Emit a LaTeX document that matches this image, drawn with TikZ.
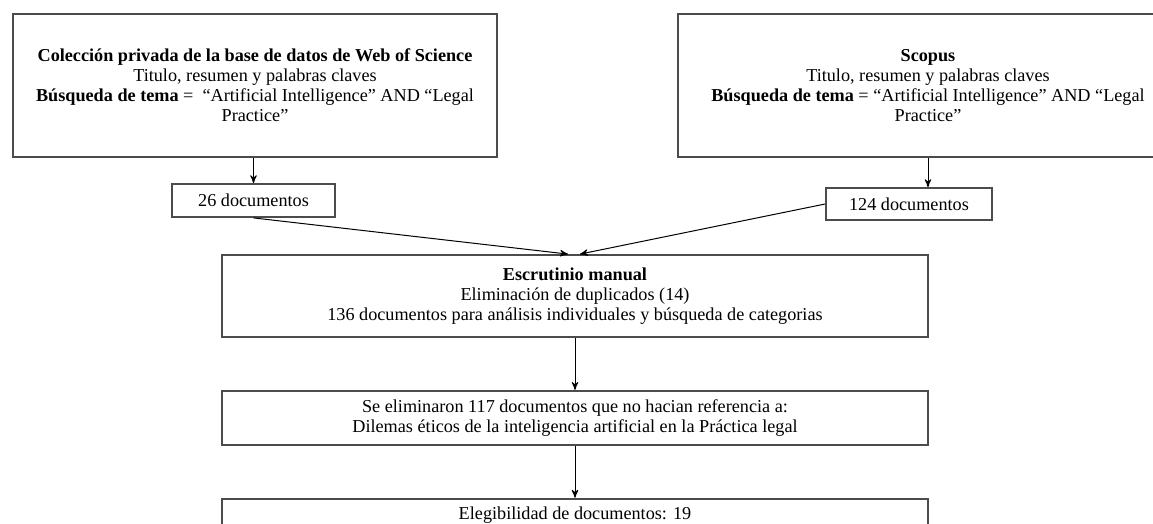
\documentclass[tikz,border=0pt]{standalone}
\usepackage{fontspec}
\setmainfont{Liberation Serif}
\usetikzlibrary{arrows,positioning}

\begin{document}
\begin{tikzpicture}[x=0.5pt, y=-0.5pt, >=stealth', line width=0.5pt]
   \tikzstyle{every node} = [inner sep=0pt, align=center, font=\fontsize{9.1}{10}\selectfont];
   \tikzstyle{box} = [rectangle, draw=black!70, line width=0.9pt];
   \useasboundingbox (0,0) rectangle (1153,524);
   \node[box, minimum width=242pt, minimum height=71.5pt] (wos) at (255,85.5)
      {\textbf{Colección privada de la base de datos de Web of Science}\\
       Titulo, resumen y palabras claves\\
       \textbf{Búsqueda de tema} = ~“Artificial Intelligence” AND “Legal\\
       Practice”};
   \node[box, minimum width=250pt, minimum height=71.5pt] (scopus) at (928,85.5)
      {\textbf{Scopus}\\
       Titulo, resumen y palabras claves\\
       \textbf{Búsqueda de tema} = “Artificial Intelligence” AND “Legal\\
       Practice”};
   \node[box, minimum width=81.5pt, minimum height=16.5pt] (n26) at (253.5,200.5) {26 documentos};
   \node[box, minimum width=83pt, minimum height=16pt]     (n124) at (909,204) {124 documentos};
   \node[box, minimum width=353pt, minimum height=41pt]    (esc) at (575,296)
      {\textbf{Escrutinio manual}\\
       Eliminación de duplicados (14)\\
       136 documentos para análisis individuales y búsqueda de categorias};
   \node[box, minimum width=353pt, minimum height=27pt]    (elim) [below=26pt of esc]
      {Se eliminaron 117 documentos que no hacian referencia a:\\
       Dilemas éticos de la inteligencia artificial en la Práctica legal};
   \node[box, minimum width=353pt, minimum height=17pt]    (eleg) [below=26pt of elim]
      {Elegibilidad de documentos: 19};
   \draw[->] (n26.north |- wos.south) -- (n26.north);
   \draw[->] (scopus.south) -- (scopus.south |- n124.north);
   \draw[->] (n26.south) -- ([xshift=-3.5pt]esc.north);
   \draw[->] (n124.west) -- ([xshift=2.5pt]esc.north);
   \draw[->] (esc) -- (elim);
   \draw[->] (elim) -- (eleg);
\end{tikzpicture}
\end{document}
